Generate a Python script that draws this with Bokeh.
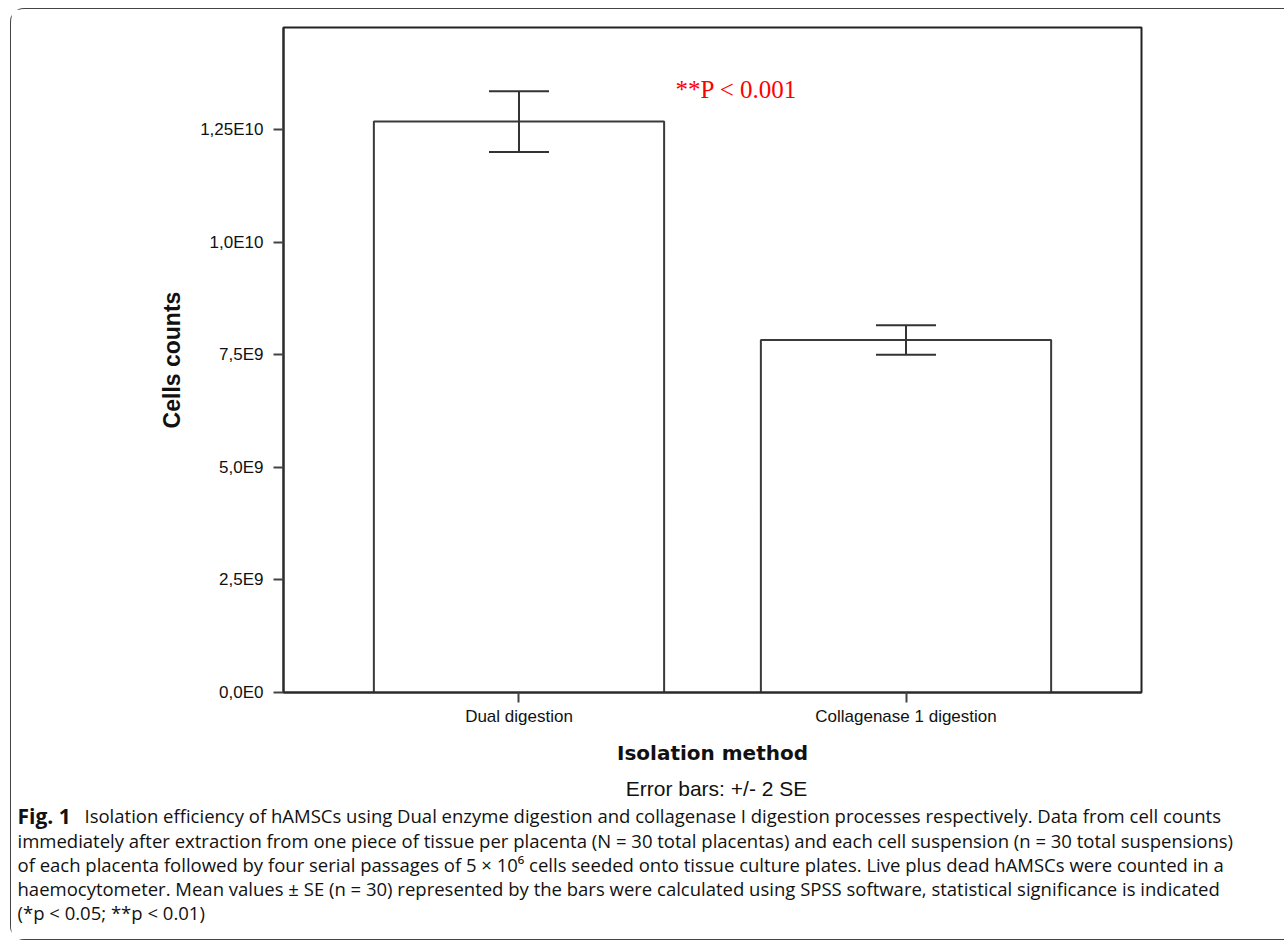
from bokeh.plotting import figure
from bokeh.layouts import column
from bokeh.models import (ColumnDataSource, FactorRange, Range1d, Whisker, TeeHead,
                          Label, FixedTicker)
from bokeh.embed import file_html
from bokeh.resources import INLINE

# ---- data ----
categories = ["Dual digestion", "Collagenase 1 digestion"]
mean_counts = [12.68e9, 7.83e9]
two_se = [0.675e9, 0.326e9]
y_ticks = [0, 2.5e9, 5.0e9, 7.5e9, 1.0e10, 1.25e10]
y_tick_labels = ["0,0E0", "2,5E9", "5,0E9", "7,5E9", "1,0E10", "1,25E10"]
y_max = 1.477e10
significance_text = "**P < 0.001"
x_title = "Isolation method"
y_title = "Cells counts"
error_note = "Error bars: +/- 2 SE"
caption_bold = "Fig. 1"
caption_lines = [
    "Isolation efficiency of hAMSCs using Dual enzyme digestion and collagenase I digestion processes respectively. Data from cell counts",
    "immediately after extraction from one piece of tissue per placenta (N = 30 total placentas) and each cell suspension (n = 30 total suspensions)",
    "of each placenta followed by four serial passages of 5 \u00d7 10\u2076 cells seeded onto tissue culture plates. Live plus dead hAMSCs were counted in a",
    "haemocytometer. Mean values \u00b1 SE (n = 30) represented by the bars were calculated using SPSS software, statistical significance is indicated",
    "(*p < 0.05; **p < 0.01)",
]

src = ColumnDataSource(dict(
    cat=categories,
    mean=mean_counts,
    upper=[m + e for m, e in zip(mean_counts, two_se)],
    lower=[m - e for m, e in zip(mean_counts, two_se)],
))

# page geometry: bordered box starts at (10, 8) with a 1px border
OX, OY = 11, 9
INNER_W = 1284 - OX
CHART_H = 772 - OY
CAP_H = 939 - 772

p = figure(width=INNER_W, height=CHART_H,
           x_range=FactorRange(*categories, range_padding=0.1085),
           y_range=Range1d(0, y_max),
           output_backend="svg", toolbar_location=None,
           min_border_left=283 - OX, min_border_right=INNER_W - (1141 - OX),
           min_border_top=27 - OY, min_border_bottom=(OY + CHART_H) - 692)
p.background_fill_color = "white"
p.border_fill_color = "white"
p.outline_line_color = "#222222"
p.outline_line_width = 2
p.xgrid.visible = False
p.ygrid.visible = False

for ax in (p.xaxis, p.yaxis):
    ax.axis_line_color = "#2a2a2a"
    ax.axis_line_width = 2
    ax.major_tick_line_color = "#444444"
    ax.major_tick_line_width = 2
    ax.major_tick_out = 10
    ax.major_tick_in = 0
    ax.minor_tick_line_color = None
    ax.major_label_text_font = "Liberation Sans"
    ax.major_label_text_font_size = "17px"
    ax.major_label_text_color = "#111111"

p.yaxis.ticker = FixedTicker(ticks=y_ticks)
p.yaxis.major_label_overrides = {t: l for t, l in zip(y_ticks, y_tick_labels)}
p.yaxis.major_label_standoff = 10
p.yaxis.axis_label = y_title
p.yaxis.axis_label_text_font = "Liberation Sans"
p.yaxis.axis_label_text_font_style = "bold"
p.yaxis.axis_label_text_font_size = "23px"
p.yaxis.axis_label_text_color = "#111111"
p.yaxis.axis_label_standoff = 12

p.xaxis.major_label_standoff = 4
p.xaxis.axis_label = x_title
p.xaxis.axis_label_text_font = "DejaVu Sans"
p.xaxis.axis_label_text_font_style = "bold"
p.xaxis.axis_label_text_font_size = "20px"
p.xaxis.axis_label_text_color = "#111111"
p.xaxis.axis_label_standoff = 12

p.vbar(x="cat", top="mean", width=0.75, source=src,
       fill_color="white", line_color="#3a3a3a", line_width=2)

wh = Whisker(base="cat", upper="upper", lower="lower", source=src,
             line_color="#333333", line_width=2, level="overlay",
             upper_head=TeeHead(size=60, line_color="#333333", line_width=2),
             lower_head=TeeHead(size=60, line_color="#333333", line_width=2))
p.add_layout(wh)

p.add_layout(Label(x=675 - OX, y=89 - OY, x_units="canvas", y_units="canvas",
                   text=significance_text, text_color="#ff0000",
                   text_font="Liberation Serif", text_font_size="25px",
                   text_align="left", text_baseline="middle"))

# ---- caption panel (its frame is the whole canvas) ----
cap = figure(width=INNER_W, height=CAP_H, x_range=Range1d(0, INNER_W),
             y_range=Range1d(CAP_H, 0), output_backend="svg", toolbar_location=None,
             x_axis_location=None, y_axis_location=None,
             min_border=0, min_border_left=0, min_border_right=0,
             min_border_top=0, min_border_bottom=0)
cap.outline_line_color = None
cap.xgrid.visible = False
cap.ygrid.visible = False
cap.background_fill_color = "white"
cap.border_fill_color = "white"

TOP = OY + CHART_H
cap.add_layout(Label(x=716 - OX, y=788 - TOP, x_units="canvas", y_units="canvas",
                     text=error_note, text_color="#111111",
                     text_font="Liberation Sans", text_font_size="21px",
                     text_align="center", text_baseline="middle"))

cap_font = "Open Sans"
cap_size = "18.5px"
line_y = [815, 840, 864, 888, 912]
cap.add_layout(Label(x=17 - OX, y=line_y[0] - TOP, x_units="canvas", y_units="canvas",
                     text=caption_bold, text_font=cap_font, text_font_style="bold",
                     text_font_size="21px", text_color="#111111",
                     text_align="left", text_baseline="middle"))
for i, (txt, yy) in enumerate(zip(caption_lines, line_y)):
    cap.add_layout(Label(x=(84 if i == 0 else 17) - OX, y=yy - TOP,
                         x_units="canvas", y_units="canvas",
                         text=txt, text_font=cap_font, text_font_size=cap_size,
                         text_color="#111111", text_align="left", text_baseline="middle"))

layout = column(column(p), column(cap), spacing=0, margin=(8, 0, 0, 10),
                styles={"border-left": "1px solid #444", "border-top": "1px solid #444",
                        "border-bottom": "1px solid #444",
                        "border-top-left-radius": "14px",
                        "border-bottom-left-radius": "14px"})

open("out.html", "w").write(file_html(layout, INLINE))
